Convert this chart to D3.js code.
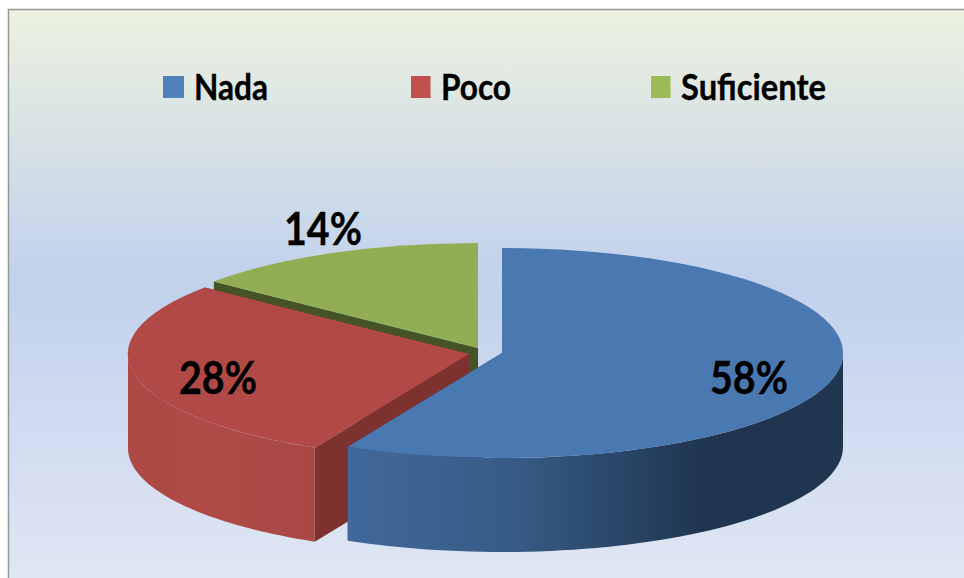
<!DOCTYPE html>
<html><head><meta charset="utf-8">
<script src="https://cdn.jsdelivr.net/npm/d3@7"></script>
<style>html,body{margin:0;padding:0;background:#fff}svg{display:block}text{font-family:Lato,"Open Sans",sans-serif;font-weight:700;fill:#000;stroke:#000;stroke-width:.35}</style>
</head><body><svg id="c" width="964" height="578"></svg>
<script>
const categories = ["Nada","Poco","Suficiente"];
const values = [58,28,14];
const labels = ["58%","28%","14%"];
const topColors = ["#4a78b0","#b14a46","#92ae54"];
const legendColors = ["#4f81bd","#c0504d","#9bbb59"];
const innerWallColors = ["#2c4669","#7d3230","#465425"];
const centers = [[502,353],[469,354],[478,348]];
const labelPos = [[749,394],[218,394],[323,245]];
const legendX = [163,411,651];
const legendTextX = [194,441,681];
const legendWidths = [74,70,145];
const labelWidth = 78;
const rx = 341, ry = 105, depth = 94;
// The 3D view foreshortens the front of the pie, shifting the drawn slice boundaries slightly.
const perspectiveIn = [0,0.58,0.86,1];
const perspectiveOut = [0,0.5747,0.859,1];

const svg = d3.select("#c");
const defs = svg.append("defs");
const bg = defs.append("linearGradient").attr("id","bg").attr("x1",0).attr("y1",0).attr("x2",0).attr("y2",1);
[[0,"#ecf1df"],[0.47,"#c1d1ec"],[1,"#e0e7f4"]].forEach(s=>bg.append("stop").attr("offset",s[0]).attr("stop-color",s[1]));
const gBlue = defs.append("linearGradient").attr("id","sideBlue").attr("gradientUnits","userSpaceOnUse").attr("x1",348).attr("x2",843).attr("y1",0).attr("y2",0);
[[0,"#41699b"],[0.35,"#365a84"],[0.72,"#1f3550"],[1,"#1f3550"]].forEach(s=>gBlue.append("stop").attr("offset",s[0]).attr("stop-color",s[1]));
const gRed = defs.append("linearGradient").attr("id","sideRed").attr("gradientUnits","userSpaceOnUse").attr("x1",128).attr("x2",315).attr("y1",0).attr("y2",0);
[[0,"#ad4844"],[0.5,"#b04a46"],[1,"#a84845"]].forEach(s=>gRed.append("stop").attr("offset",s[0]).attr("stop-color",s[1]));

svg.append("rect").attr("x",8.5).attr("y",9.5).attr("width",960).attr("height",575)
  .attr("fill","url(#bg)").attr("stroke","#989898").attr("stroke-width",1.5);

const view = d3.scaleLinear().domain(perspectiveIn.map(f=>f*2*Math.PI)).range(perspectiveOut.map(f=>f*2*Math.PI));
const pie = d3.pie().sort(null).value(d=>d).startAngle(0).endAngle(2*Math.PI);
const arcs = pie(values).map(d=>({...d,startAngle:view(d.startAngle),endAngle:view(d.endAngle)}));
const arc = d3.arc().innerRadius(0).outerRadius(1);
const px = (c,a)=>c[0]+rx*Math.sin(a), py = (c,a)=>c[1]-ry*Math.cos(a);

function wallInner(c,a){
  const p=d3.path();
  p.moveTo(c[0],c[1]);p.lineTo(px(c,a),py(c,a));p.lineTo(px(c,a),py(c,a)+depth);p.lineTo(c[0],c[1]+depth);p.closePath();
  return p.toString();
}
function wallOuter(c,a0,a1){
  const from=Math.max(a0,Math.PI/2), to=Math.min(a1,3*Math.PI/2);
  if(from>=to) return null;
  const steps=d3.range(0,61).map(i=>from+(to-from)*i/60);
  const top=steps.map(a=>[px(c,a),py(c,a)]);
  const bot=steps.slice().reverse().map(a=>[px(c,a),py(c,a)+depth]);
  return d3.line()(top.concat(bot))+"Z";
}
const sideFill=["url(#sideBlue)","url(#sideRed)",null];
// back-to-front: green, red, blue
[2,1,0].forEach(i=>{
  const d=arcs[i], c=centers[i];
  const g=svg.append("g");
  g.append("path").attr("d",wallInner(c,d.startAngle)).attr("fill",innerWallColors[i]);
  g.append("path").attr("d",wallInner(c,d.endAngle)).attr("fill",innerWallColors[i]);
  const w=wallOuter(c,d.startAngle,d.endAngle);
  if(w) g.append("path").attr("d",w).attr("fill",sideFill[i]);
  g.append("path").attr("d",arc(d)).attr("fill",topColors[i])
    .attr("transform",`translate(${c[0]},${c[1]}) scale(${rx},${ry})`);
});

labels.forEach((t,i)=>{
  svg.append("text").attr("x",labelPos[i][0]).attr("y",labelPos[i][1]).attr("text-anchor","middle")
    .attr("font-size",46).attr("textLength",labelWidth).attr("lengthAdjust","spacingAndGlyphs").text(t);
});
categories.forEach((t,i)=>{
  svg.append("rect").attr("x",legendX[i]).attr("y",76).attr("width",i==0?21:19.5).attr("height",22).attr("fill",legendColors[i]);
  svg.append("text").attr("x",legendTextX[i]).attr("y",100).attr("font-size",36)
    .attr("textLength",legendWidths[i]).attr("lengthAdjust","spacingAndGlyphs").text(t);
});
</script></body></html>
